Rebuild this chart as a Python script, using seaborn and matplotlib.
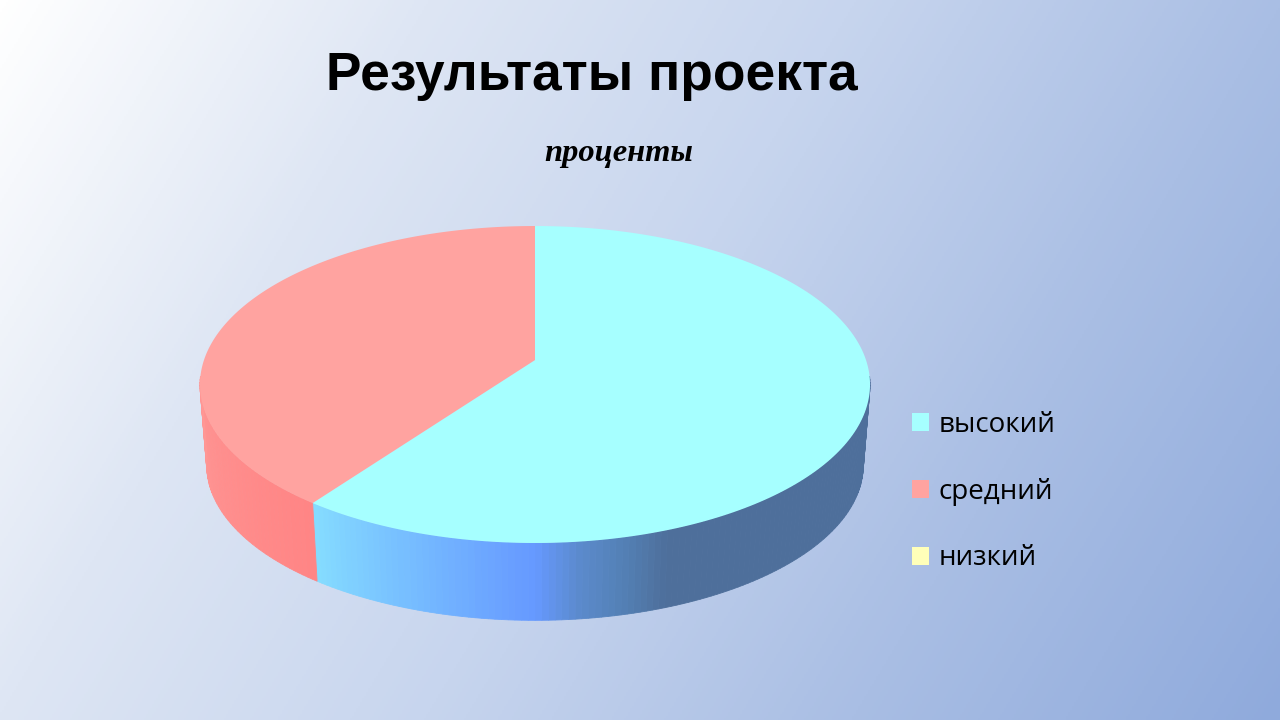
import numpy as np
import matplotlib
matplotlib.use("Agg")
import matplotlib.pyplot as plt
from matplotlib.patches import Patch
import seaborn as sns

# chart data
categories = ["высокий", "средний", "низкий"]
values = [60, 40, 0]
colors = ["#A6FFFF", "#FFA3A0", "#FFFFB9"]

title = "Результаты проекта"
subtitle = "проценты"

sns.set_theme(style="white")
plt.rcParams["font.family"] = ["Liberation Sans", "DejaVu Sans"]

# the pie is a tilted disc, so the centre sits above the middle of the ellipse
CX = 535
TOP_Y = 360
LOW_Y = 441
WIDTH = 331
NEAR = 154.7
PERSP = -0.1546
LOW_SCALE = 0.98


def project(theta, y0=TOP_Y, scale=1.0):
    # theta in degrees, clockwise from the far side of the disc
    s = np.sin(np.radians(theta))
    t = -np.cos(np.radians(theta))
    d = 1 + PERSP * t
    return CX + scale * WIDTH * s / d, y0 + scale * NEAR * t / d


fig = plt.figure(figsize=(12.8, 7.2), dpi=100)
ax = fig.add_axes([0, 0, 1, 1])

# background gradient
bg_cmap = sns.blend_palette(["#FFFFFF", "#DEE6F4", "#C7D5EE", "#A9BEE4", "#8FAADC"], as_cmap=True)
xx, yy = np.meshgrid(np.linspace(0, 1, 640), np.linspace(0, 1, 360))
ax.imshow((xx * 1280 + yy * 432) / 1712, cmap=bg_cmap, extent=[0, 1280, 720, 0],
          aspect="auto", vmin=0, vmax=1, zorder=0)

edges = np.concatenate([[0], np.cumsum(values)]) / np.sum(values) * 360

red_wall = sns.blend_palette(["#FF8585", "#FFA3A0"], 101)
light_wall = sns.blend_palette(["#6699FF", "#85DDFF"], 101)
dark_wall = sns.blend_palette(["#4E6F9B", "#5380B5", "#5B8ACC", "#6699FF"], 101)


def wall_color(theta, i):
    if i == 1:
        return red_wall[int(np.clip((theta - 216) / 80, 0, 1) * 100)]
    # blue slice gets darker towards the right
    if theta >= 180:
        return light_wall[int(np.clip((theta - 180) / 36, 0, 1) * 100)]
    return dark_wall[int(np.clip((theta - 160) / 20, 0, 1) * 100)]


# side wall, drawn in thin strips
for i in range(len(values)):
    start = max(edges[i], 96)
    stop = min(edges[i + 1], 264)
    if stop <= start:
        continue
    steps = np.append(np.arange(start, stop, 1.0), stop)
    for a, b in zip(steps[:-1], steps[1:]):
        x1, y1 = project(np.array([a, b]))
        x2, y2 = project(np.array([b, a]), LOW_Y, LOW_SCALE)
        c = wall_color((a + b) / 2, i)
        ax.fill(np.r_[x1, x2], np.r_[y1, y2], color=c, lw=0.6, zorder=2)

# top of the pie
for i in range(len(values)):
    if values[i] == 0:
        continue
    th = np.linspace(edges[i], edges[i + 1], 300)
    x, y = project(th)
    ax.fill(np.r_[CX, x], np.r_[TOP_Y, y], color=colors[i], lw=0, zorder=3)

ax.set_xlim(0, 1280)
ax.set_ylim(720, 0)
ax.axis("off")

ax.text(592, 76, title, ha="center", va="center", fontsize=38.3, fontweight="bold",
        color="black", family="Liberation Sans")
ax.text(619, 153, subtitle, ha="center", va="center", fontsize=23.4, fontweight="bold",
        style="italic", color="black", family="Liberation Serif")

handles = [Patch(facecolor=c, edgecolor="none") for c in colors]
ax.legend(handles, categories, loc="upper left", bbox_to_anchor=(901 / 1280, 1 - 400 / 720),
          frameon=False, prop={"family": "Open Sans", "size": 20},
          handlelength=0.62, handleheight=0.62, handletextpad=0.33, labelspacing=1.39,
          borderpad=0.4, borderaxespad=0, labelcolor="black")

fig.savefig("out.png", dpi=100)
